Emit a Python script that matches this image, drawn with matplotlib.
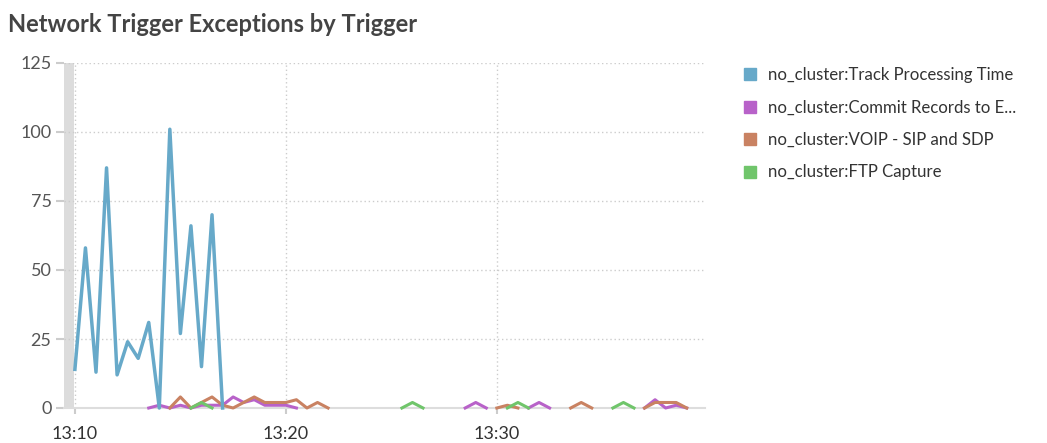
import matplotlib
matplotlib.use("Agg")
import matplotlib.pyplot as plt
import matplotlib.dates as mdates
from matplotlib.lines import Line2D
from matplotlib.patches import Rectangle
import numpy as np
import pandas as pd

plt.rcParams['font.family'] = ['Lato', 'DejaVu Sans']

N = None
title = "Network Trigger Exceptions by Trigger"
series_names = [
    "no_cluster:Track Processing Time",
    "no_cluster:Commit Records to E...",
    "no_cluster:VOIP - SIP and SDP",
    "no_cluster:FTP Capture",
]
colors = ["#67a9c9", "#b862c9", "#c98262", "#70c56b"]

# 30-second buckets starting at 13:10
times = pd.date_range("2024-01-01 13:10:00", periods=60, freq="30s")

track = [14, 58, 13, 87, 12, 24, 18, 31, 0, 101, 27, 66, 15, 70, 0] + [N] * 45

commit = ([N] * 7 + [0, 1, 0, 1, 0, 1, 1, 1, 4, 2, 3, 1, 1, 1, 0]
          + [N] * 15 + [0, 2, 0] + [N] * 3 + [0, 2, 0] + [N] * 8
          + [0, 3, 0, 1, 0] + [N])

voip = ([N] * 9 + [0, 4, 0, 2, 4, 1, 0, 2, 4, 2, 2, 2, 3, 0, 2, 0]
        + [N] * 15 + [0, 1, 0] + [N] * 4 + [0, 2, 0] + [N] * 4
        + [0, 2, 2, 2, 0] + [N])

ftp = ([N] * 11 + [0, 2, 0] + [N] * 17 + [0, 2, 0] + [N] * 7 + [0, 2, 0]
       + [N] * 7 + [0, 2, 0] + [N] * 6)

yticks = [0, 25, 50, 75, 100, 125]
xtick_labels = ["13:10", "13:20", "13:30"]

def arr(v):
    return np.array([np.nan if x is None else x for x in v], dtype=float)

W, H = 1047, 443
fig = plt.figure(figsize=(W / 100, H / 100), dpi=100)
ax_l, ax_r, ax_t, ax_b = 64, 705, 63, 408
ax = fig.add_axes([ax_l / W, (H - ax_b) / H, (ax_r - ax_l) / W, (ax_b - ax_t) / H])

t0 = times[0]
ax.set_xlim(t0 - pd.Timedelta(seconds=31), t0 + pd.Timedelta(seconds=1792))
ax.set_ylim(0, 125)

# series
for vals, c in [(commit, colors[1]), (voip, colors[2]), (ftp, colors[3])]:
    ax.plot(times, arr(vals), color=c, lw=2.2, clip_on=False, zorder=3)
ax.plot(times, arr(track), color=colors[0], lw=2.5, clip_on=False, zorder=4)

# ticks
xt = [pd.Timestamp("2024-01-01 " + s) for s in xtick_labels]
ax.set_xticks(xt)
ax.set_xticklabels(xtick_labels)
ax.set_yticks(yticks)
ax.tick_params(axis='x', length=4, width=1.5, color="#cccccc", pad=9,
               labelsize=13, labelcolor="#333333")
ax.tick_params(axis='y', length=6, width=1.5, color="#cccccc", pad=3,
               labelsize=13, labelcolor="#555555")

ax.grid(True, linestyle=(0, (1, 2)), color="#cccccc", lw=1.0, zorder=0)
for s in ["top", "right", "left"]:
    ax.spines[s].set_visible(False)
ax.spines["bottom"].set_color("#dddddd")
ax.spines["bottom"].set_linewidth(1.5)
ax.spines["bottom"].set_zorder(2)

# grey band at left
ax.add_patch(Rectangle((0, 0), 9.5 / (ax_r - ax_l), 1, transform=ax.transAxes,
                       facecolor="#dcdcdc", edgecolor="none", zorder=1, clip_on=False))

fig.text(8 / W, 1 - 25 / H, title, fontsize=17, fontweight='bold',
         color="#444444", va='center', ha='left')

handles = [Line2D([], [], marker='s', linestyle='none', markersize=8.5,
                  markerfacecolor=c, markeredgecolor=c) for c in colors]
leg = fig.legend(handles, series_names, loc='upper left',
                 bbox_to_anchor=(742 / W, 1 - 67 / H), frameon=False,
                 fontsize=12.1, handlelength=1.0, handletextpad=0.55,
                 labelspacing=0.98, borderpad=0, borderaxespad=0)
for t in leg.get_texts():
    t.set_color("#333333")

fig.savefig("out.png", dpi=100)
